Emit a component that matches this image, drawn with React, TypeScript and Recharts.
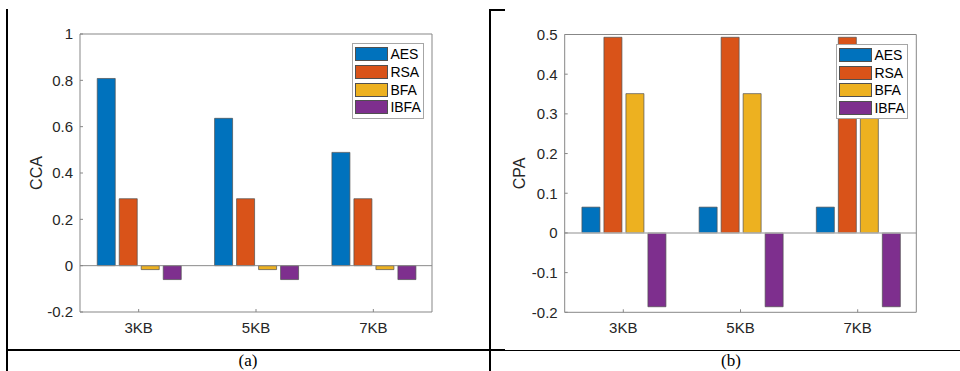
import React from 'react';
import { BarChart, Bar, XAxis, YAxis, Legend, ReferenceLine } from 'recharts';

const categories = ['3KB', '5KB', '7KB'];
const seriesNames = ['AES', 'RSA', 'BFA', 'IBFA'];
const seriesColors = ['#0072BD', '#D95319', '#EDB120', '#7E2F8E'];

const ccaAES = [0.808, 0.636, 0.489];
const ccaRSA = [0.289, 0.289, 0.289];
const ccaBFA = [-0.017, -0.017, -0.017];
const ccaIBFA = [-0.06, -0.06, -0.06];

const cpaAES = [0.065, 0.065, 0.065];
const cpaRSA = [0.493, 0.493, 0.493];
const cpaBFA = [0.351, 0.351, 0.351];
const cpaIBFA = [-0.186, -0.186, -0.186];

const ccaTicks = [-0.2, 0, 0.2, 0.4, 0.6, 0.8, 1];
const cpaTicks = [-0.2, -0.1, 0, 0.1, 0.2, 0.3, 0.4, 0.5];

const buildData = (vals: number[][]) =>
  categories.map((c, i) => {
    const row: Record<string, string | number> = { cat: c };
    seriesNames.forEach((s, j) => {
      row[s] = vals[j][i];
    });
    return row;
  });

const dataA = buildData([ccaAES, ccaRSA, ccaBFA, ccaIBFA]);
const dataB = buildData([cpaAES, cpaRSA, cpaBFA, cpaIBFA]);

const AXIS = '#878787';
const TXT = '#262626';
const FONT = '"Liberation Sans", Arial, Helvetica, sans-serif';

const renderLegend = (props: any) => {
  const payload = [...(props.payload || [])].sort(
    (a: any, b: any) => seriesNames.indexOf(a.value) - seriesNames.indexOf(b.value)
  );
  return (
    <div
      style={{
        boxSizing: 'border-box',
        width: 72,
        background: '#fff',
        border: '1px solid #a6a6a6',
        padding: '1.5px 0 1.5px 2px',
        fontFamily: FONT,
        fontSize: 14,
        color: '#000',
      }}
    >
      {payload.map((p: any) => (
        <div key={p.value} style={{ display: 'flex', alignItems: 'center', height: 17.7 }}>
          <div
            style={{
              boxSizing: 'border-box',
              width: 33,
              height: 14,
              background: p.color,
              border: '1px solid #505050',
              marginRight: 2.4,
            }}
          />
          <span style={{ lineHeight: '14px' }}>{p.value}</span>
        </div>
      ))}
    </div>
  );
};

type PanelProps = {
  data: any[];
  ticks: number[];
  domain: [number, number];
  label: string;
  margin: { top: number; right: number; bottom: number; left: number };
  labelX: number;
  legendLeft: number;
  legendTop: number;
  zeroColor: string;
  zeroWidth: number;
};

const Panel = ({ data, ticks, domain, label, margin, labelX, legendLeft, legendTop, zeroColor, zeroWidth }: PanelProps) => (
  <BarChart
    width={480}
    height={371}
    data={data}
    margin={{ top: margin.top - 1, right: margin.right - 1, bottom: margin.bottom - 1, left: margin.left - 1 }}
    barCategoryGap="14.7%"
    barGap={4}
  >
    <XAxis
      dataKey="cat"
      height={1}
      interval={0}
      axisLine={{ stroke: AXIS }}
      tickLine={{ stroke: AXIS }}
      tickSize={-3}
      tickMargin={13}
      tick={{ fill: TXT, fontSize: 15, fontFamily: FONT }}
    />
    <XAxis
      dataKey="cat"
      xAxisId="top"
      orientation="top"
      height={1}
      interval={0}
      axisLine={{ stroke: AXIS }}
      tickLine={{ stroke: AXIS }}
      tickSize={-3}
      tick={false}
    />
    <YAxis
      type="number"
      domain={domain}
      ticks={ticks}
      width={1}
      interval={0}
      axisLine={{ stroke: AXIS }}
      tickLine={{ stroke: AXIS }}
      tickSize={-3}
      tickMargin={10}
      tick={{ fill: TXT, fontSize: 15, fontFamily: FONT }}
      label={(p: any) => {
        const vb = p.viewBox || { x: margin.left - 1, y: margin.top, height: 371 - margin.top - margin.bottom };
        const cx = vb.x + 1 - labelX;
        const cy = vb.y + vb.height / 2;
        return (
          <text
            x={cx}
            y={cy}
            transform={`rotate(-90, ${cx}, ${cy})`}
            textAnchor="middle"
            dominantBaseline="central"
            fill={TXT}
            fontSize={16}
            fontFamily={FONT}
          >
            {label}
          </text>
        );
      }}
    />
    <YAxis
      yAxisId="right"
      orientation="right"
      type="number"
      domain={domain}
      ticks={ticks}
      width={1}
      interval={0}
      axisLine={{ stroke: AXIS }}
      tickLine={{ stroke: AXIS }}
      tickSize={-3}
      tick={false}
    />
    <ReferenceLine y={0} stroke={zeroColor} strokeWidth={zeroWidth} />
    {seriesNames.map((s, j) => (
      <Bar
        key={s}
        dataKey={s}
        name={s}
        fill={seriesColors[j]}
        stroke="#505050"
        strokeWidth={0.7}
        isAnimationActive={false}
      />
    ))}
    <Legend
      layout="vertical"
      align="center"
      verticalAlign="middle"
      content={renderLegend}
      wrapperStyle={{ left: legendLeft, top: legendTop, width: 72, height: 'auto' }}
    />
  </BarChart>
);

const line = (style: React.CSSProperties) => (
  <div style={{ position: 'absolute', background: '#000', ...style }} />
);

export default function App() {
  return (
    <div style={{ position: 'absolute', left: 0, top: 0, width: 960, height: 371, background: '#fff', overflow: 'hidden' }}>
      <div style={{ position: 'absolute', left: 0, top: 0 }}>
        <Panel
          data={dataA}
          ticks={ccaTicks}
          domain={[-0.2, 1]}
          label="CCA"
          margin={{ top: 34, right: 48, bottom: 59, left: 80 }}
          labelX={44}
          legendLeft={352}
          legendTop={43}
          zeroColor="#8a8a8a"
          zeroWidth={1}
        />
      </div>
      <div style={{ position: 'absolute', left: 480, top: 0 }}>
        <Panel
          data={dataB}
          ticks={cpaTicks}
          domain={[-0.2, 0.5]}
          label="CPA"
          margin={{ top: 34.5, right: 43.7, bottom: 58.7, left: 84.7 }}
          labelX={44.7}
          legendLeft={356}
          legendTop={43.5}
          zeroColor="#b4b4b4"
          zeroWidth={1.6}
        />
      </div>
      {line({ left: 6, top: 9, width: 2, height: 362 })}
      {line({ left: 6, top: 349, width: 499, height: 2 })}
      {line({ left: 489, top: 9, width: 2, height: 362 })}
      {line({ left: 489, top: 9, width: 16, height: 2 })}
      {line({ left: 505, top: 350, width: 455, height: 1.4 })}
      <div
        style={{
          position: 'absolute',
          left: 198,
          width: 100,
          top: 351,
          textAlign: 'center',
          fontFamily: '"Liberation Serif", "Times New Roman", serif',
          fontSize: 17,
          lineHeight: '20px',
          color: '#000',
        }}
      >
        (a)
      </div>
      <div
        style={{
          position: 'absolute',
          left: 681,
          width: 100,
          top: 351,
          textAlign: 'center',
          fontFamily: '"Liberation Serif", "Times New Roman", serif',
          fontSize: 17,
          lineHeight: '20px',
          color: '#000',
        }}
      >
        (b)
      </div>
    </div>
  );
}
